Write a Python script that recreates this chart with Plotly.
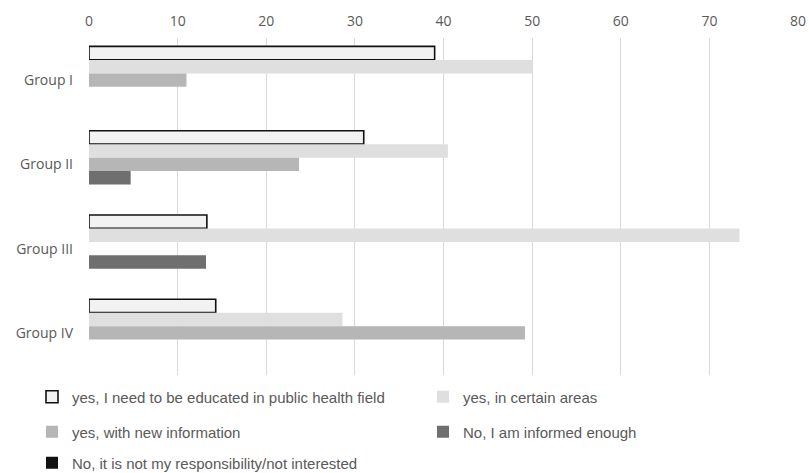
import plotly.graph_objects as go

groups = ["Group I", "Group II", "Group III", "Group IV"]

series_names = [
    "yes, I need to be educated in public health field",
    "yes, in certain areas",
    "yes, with new information",
    "No, I am informed enough",
    "No, it is not my responsibility/not interested",
]

educated_public_health = [39.0, 31.0, 13.3, 14.3]
certain_areas = [50.0, 40.5, 73.4, 28.6]
new_information = [11.0, 23.7, 0.0, 49.2]
informed_enough = [0.0, 4.7, 13.2, 0.0]
not_interested = [0.0, 0.0, 0.0, 0.0]

x_ticks = [0, 10, 20, 30, 40, 50, 60, 70, 80]

series_values = [
    educated_public_health,
    certain_areas,
    new_information,
    informed_enough,
    not_interested,
]
fills = ["#f2f2f2", "#dfdfdf", "#b6b6b6", "#6f6f6f", "#111111"]
outlines = [("#111111", 1.6), (None, 0), (None, 0), (None, 0), (None, 0)]
legend_ids = ["legend", "legend", "legend2", "legend2", "legend3"]
# left-column entries get a fixed width so the right column lines up
legend_widths = [346, 200, 346, 200, 346]

fig = go.Figure()
for name, vals, fill, (lc, lw), lg, lwid in zip(
        series_names, series_values, fills, outlines, legend_ids, legend_widths):
    marker = dict(color=fill)
    if lc:
        marker["line"] = dict(color=lc, width=lw)
    else:
        marker["line"] = dict(width=0)
    fig.add_trace(go.Bar(
        y=groups, x=vals, name=name, orientation="h",
        marker=marker, legend=lg, legendwidth=lwid,
    ))

W, H = 809, 473
ml, mr, mt, mb = 89, 11, 38, 98


def cx(p):
    return p / W


def cy(p):
    return 1 - p / H


legend_font = dict(family="Liberation Sans", size=15, color="#595959")
common_legend = dict(
    orientation="h", xanchor="left", yanchor="middle",
    xref="container", yref="container",
    entrywidthmode="pixels",
    font=legend_font, bgcolor="rgba(0,0,0,0)", traceorder="normal",
)

fig.update_layout(
    width=W, height=H,
    margin=dict(l=ml, r=mr, t=mt, b=mb, pad=0, autoexpand=False),
    paper_bgcolor="white", plot_bgcolor="white",
    barmode="group", bargap=0.2, bargroupgap=0,
    font=dict(family="Open Sans", size=14, color="#595959"),
    xaxis=dict(
        side="top", range=[0, 80], tickvals=x_ticks,
        showgrid=True, gridcolor="#d9d9d9", gridwidth=1.3,
        zeroline=False, showline=False, ticks="",
        tickfont=dict(size=14, color="#595959"),
        ticklabelstandoff=8, fixedrange=True,
    ),
    yaxis=dict(
        autorange="reversed", showgrid=False, zeroline=False,
        showline=False, ticks="", ticklabelstandoff=15,
        tickfont=dict(size=14, color="#595959"),
    ),
    legend=dict(x=cx(32), y=cy(397), **common_legend),
    legend2=dict(x=cx(32), y=cy(432), **common_legend),
    legend3=dict(x=cx(32), y=cy(463), **common_legend),
    showlegend=True,
)

fig.write_html("out.html")
